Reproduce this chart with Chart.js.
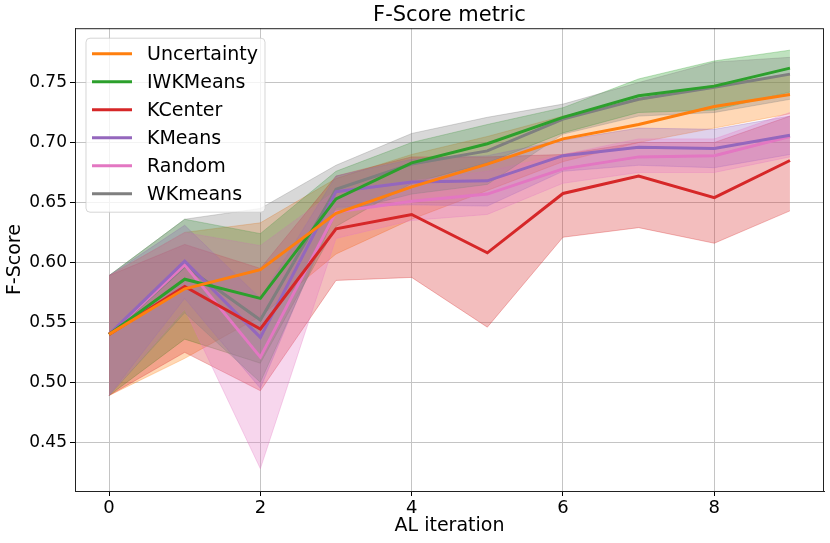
<!DOCTYPE html>
<html>
<head>
<meta charset="utf-8">
<script src="https://cdn.jsdelivr.net/npm/chart.js@4.4.1/dist/chart.umd.min.js"></script>
<style>
  html, body { margin: 0; padding: 0; background: #fff; }
</style>
</head>
<body>
<canvas id="chart" width="830" height="543"></canvas>
<script>
// Data
const iterations = [0, 1, 2, 3, 4, 5, 6, 7, 8, 9];
const xTicks = [0, 2, 4, 6, 8];
const yTicks = [0.45, 0.50, 0.55, 0.60, 0.65, 0.70, 0.75];
const seriesNames = ['Uncertainty', 'IWKMeans', 'KCenter', 'KMeans', 'Random', 'WKmeans'];
const seriesColors = ['#ff7f0e', '#2ca02c', '#d62728', '#9467bd', '#e377c2', '#7f7f7f'];

const uncertaintyMean = [0.540, 0.578, 0.594, 0.641, 0.663, 0.682, 0.703, 0.715, 0.730, 0.740];
const uncertaintyLow  = [0.489, 0.520, 0.555, 0.607, 0.636, 0.660, 0.684, 0.700, 0.712, 0.724];
const uncertaintyHigh = [0.589, 0.625, 0.633, 0.670, 0.690, 0.705, 0.722, 0.735, 0.748, 0.757];

const iwkmeansMean = [0.540, 0.586, 0.570, 0.653, 0.683, 0.699, 0.721, 0.739, 0.747, 0.762];
const iwkmeansLow  = [0.489, 0.536, 0.516, 0.630, 0.666, 0.683, 0.708, 0.725, 0.727, 0.742];
const iwkmeansHigh = [0.589, 0.636, 0.624, 0.676, 0.700, 0.715, 0.729, 0.753, 0.768, 0.777];

const kcenterMean = [0.540, 0.580, 0.5445, 0.628, 0.640, 0.608, 0.6575, 0.672, 0.654, 0.685];
const kcenterLow  = [0.489, 0.525, 0.493, 0.585, 0.5875, 0.546, 0.621, 0.629, 0.616, 0.643];
const kcenterHigh = [0.589, 0.615, 0.595, 0.672, 0.688, 0.688, 0.690, 0.700, 0.700, 0.722];

const kmeansMean = [0.540, 0.601, 0.5375, 0.659, 0.667, 0.668, 0.689, 0.696, 0.695, 0.706];
const kmeansLow  = [0.489, 0.570, 0.495, 0.646, 0.648, 0.647, 0.676, 0.681, 0.679, 0.690];
const kmeansHigh = [0.589, 0.631, 0.570, 0.672, 0.686, 0.689, 0.702, 0.712, 0.711, 0.722];

const randomMean = [0.540, 0.598, 0.521, 0.642, 0.651, 0.657, 0.678, 0.688, 0.689, 0.705];
const randomLow  = [0.489, 0.561, 0.428, 0.620, 0.635, 0.640, 0.666, 0.675, 0.675, 0.688];
const randomHigh = [0.589, 0.625, 0.614, 0.660, 0.668, 0.676, 0.690, 0.703, 0.703, 0.725];

const wkmeansMean = [0.540, 0.597, 0.552, 0.661, 0.682, 0.693, 0.7195, 0.736, 0.746, 0.757];
const wkmeansLow  = [0.489, 0.558, 0.500, 0.641, 0.657, 0.665, 0.707, 0.722, 0.725, 0.736];
const wkmeansHigh = [0.589, 0.636, 0.645, 0.681, 0.7075, 0.721, 0.732, 0.750, 0.767, 0.771];

const means = [uncertaintyMean, iwkmeansMean, kcenterMean, kmeansMean, randomMean, wkmeansMean];
const lows = [uncertaintyLow, iwkmeansLow, kcenterLow, kmeansLow, randomLow, wkmeansLow];
const highs = [uncertaintyHigh, iwkmeansHigh, kcenterHigh, kmeansHigh, randomHigh, wkmeansHigh];

const FONT = '"DejaVu Sans", sans-serif';

function rgba(hex, a) {
    const n = parseInt(hex.slice(1), 16);
    return `rgba(${(n >> 16) & 255}, ${(n >> 8) & 255}, ${n & 255}, ${a})`;
}

function toPoints(values) {
    return values.map((v, i) => ({ x: iterations[i], y: v }));
}

// lower bound, upper bound (filled to lower), mean line for each series
const datasets = [];
seriesNames.forEach((name, i) => {
    const color = seriesColors[i];
    const bandOrder = 100 - i;
    datasets.push({
        label: name + ' low',
        data: toPoints(lows[i]),
        borderColor: rgba(color, 0.3),
        borderWidth: 1,
        pointRadius: 0,
        fill: false,
        order: bandOrder
    });
    datasets.push({
        label: name + ' high',
        data: toPoints(highs[i]),
        borderColor: rgba(color, 0.3),
        backgroundColor: rgba(color, 0.3),
        borderWidth: 1,
        pointRadius: 0,
        fill: '-1',
        order: bandOrder
    });
    datasets.push({
        label: name,
        data: toPoints(means[i]),
        borderColor: color,
        borderWidth: 3,
        pointRadius: 0,
        fill: false,
        order: 0
    });
});

// matplotlib-like legend inside the axes, plus the full frame
const axesDecor = {
    id: 'axesDecor',
    afterDraw(chart) {
        const { ctx, chartArea } = chart;
        ctx.save();
        ctx.strokeStyle = '#222';
        ctx.lineWidth = 1;
        ctx.strokeRect(chartArea.left + 0.5, chartArea.top + 0.5,
            chartArea.right - chartArea.left - 1, chartArea.bottom - chartArea.top);

        const x = chartArea.left + 11;
        const y = chartArea.top + 10;
        const w = 179;
        const h = 174;
        const r = 4;
        ctx.beginPath();
        ctx.moveTo(x + r, y);
        ctx.arcTo(x + w, y, x + w, y + h, r);
        ctx.arcTo(x + w, y + h, x, y + h, r);
        ctx.arcTo(x, y + h, x, y, r);
        ctx.arcTo(x, y, x + w, y, r);
        ctx.closePath();
        ctx.fillStyle = 'rgba(255, 255, 255, 0.8)';
        ctx.fill();
        ctx.strokeStyle = 'rgba(204, 204, 204, 0.8)';
        ctx.stroke();

        ctx.font = '19px ' + FONT;
        ctx.textBaseline = 'middle';
        ctx.textAlign = 'left';
        seriesNames.forEach((name, i) => {
            const cy = y + 15.5 + i * 28;
            ctx.strokeStyle = seriesColors[i];
            ctx.lineWidth = 3;
            ctx.beginPath();
            ctx.moveTo(x + 6, cy);
            ctx.lineTo(x + 46, cy);
            ctx.stroke();
            ctx.fillStyle = '#000';
            ctx.fillText(name, x + 61, cy + 1);
        });
        ctx.restore();
    }
};

new Chart(document.getElementById('chart'), {
    type: 'line',
    data: { datasets },
    plugins: [axesDecor],
    options: {
        responsive: false,
        animation: false,
        events: [],
        layout: { padding: { left: 0, right: 6, top: 0, bottom: 0 } },
        plugins: {
            legend: { display: false },
            tooltip: { enabled: false },
            title: {
                display: true,
                text: 'F-Score metric',
                fullSize: false,
                color: '#000',
                font: { family: FONT, size: 21, weight: 'normal' },
                padding: { top: 3, bottom: 0 }
            }
        },
        scales: {
            x: {
                type: 'linear',
                min: -0.45,
                max: 9.45,
                z: 1,
                afterBuildTicks: (scale) => { scale.ticks = xTicks.map(v => ({ value: v })); },
                afterFit: (scale) => { scale.height = 52; },
                ticks: {
                    color: '#000',
                    font: { family: FONT, size: 18 },
                    padding: 2,
                    maxRotation: 0,
                    autoSkip: false,
                    callback: (v) => String(v)
                },
                grid: { color: '#c4c4c4', lineWidth: 1, tickLength: 5, tickColor: '#000' },
                border: { color: '#222', width: 1 },
                title: {
                    display: true,
                    text: 'AL iteration',
                    color: '#000',
                    font: { family: FONT, size: 19 },
                    padding: { top: 2, bottom: 6 }
                }
            },
            y: {
                type: 'linear',
                min: 0.4094,
                max: 0.7953,
                z: 1,
                afterBuildTicks: (scale) => { scale.ticks = yTicks.map(v => ({ value: v })); },
                afterFit: (scale) => { scale.width = 75; },
                ticks: {
                    color: '#000',
                    font: { family: FONT, size: 17 },
                    padding: 3,
                    callback: (v) => v.toFixed(2)
                },
                grid: { color: '#c4c4c4', lineWidth: 1, tickLength: 5, tickColor: '#000' },
                border: { color: '#222', width: 1 },
                title: {
                    display: true,
                    text: 'F-Score',
                    color: '#000',
                    font: { family: FONT, size: 19 },
                    padding: { top: 4, bottom: 2 }
                }
            }
        }
    }
});
</script>
</body>
</html>
